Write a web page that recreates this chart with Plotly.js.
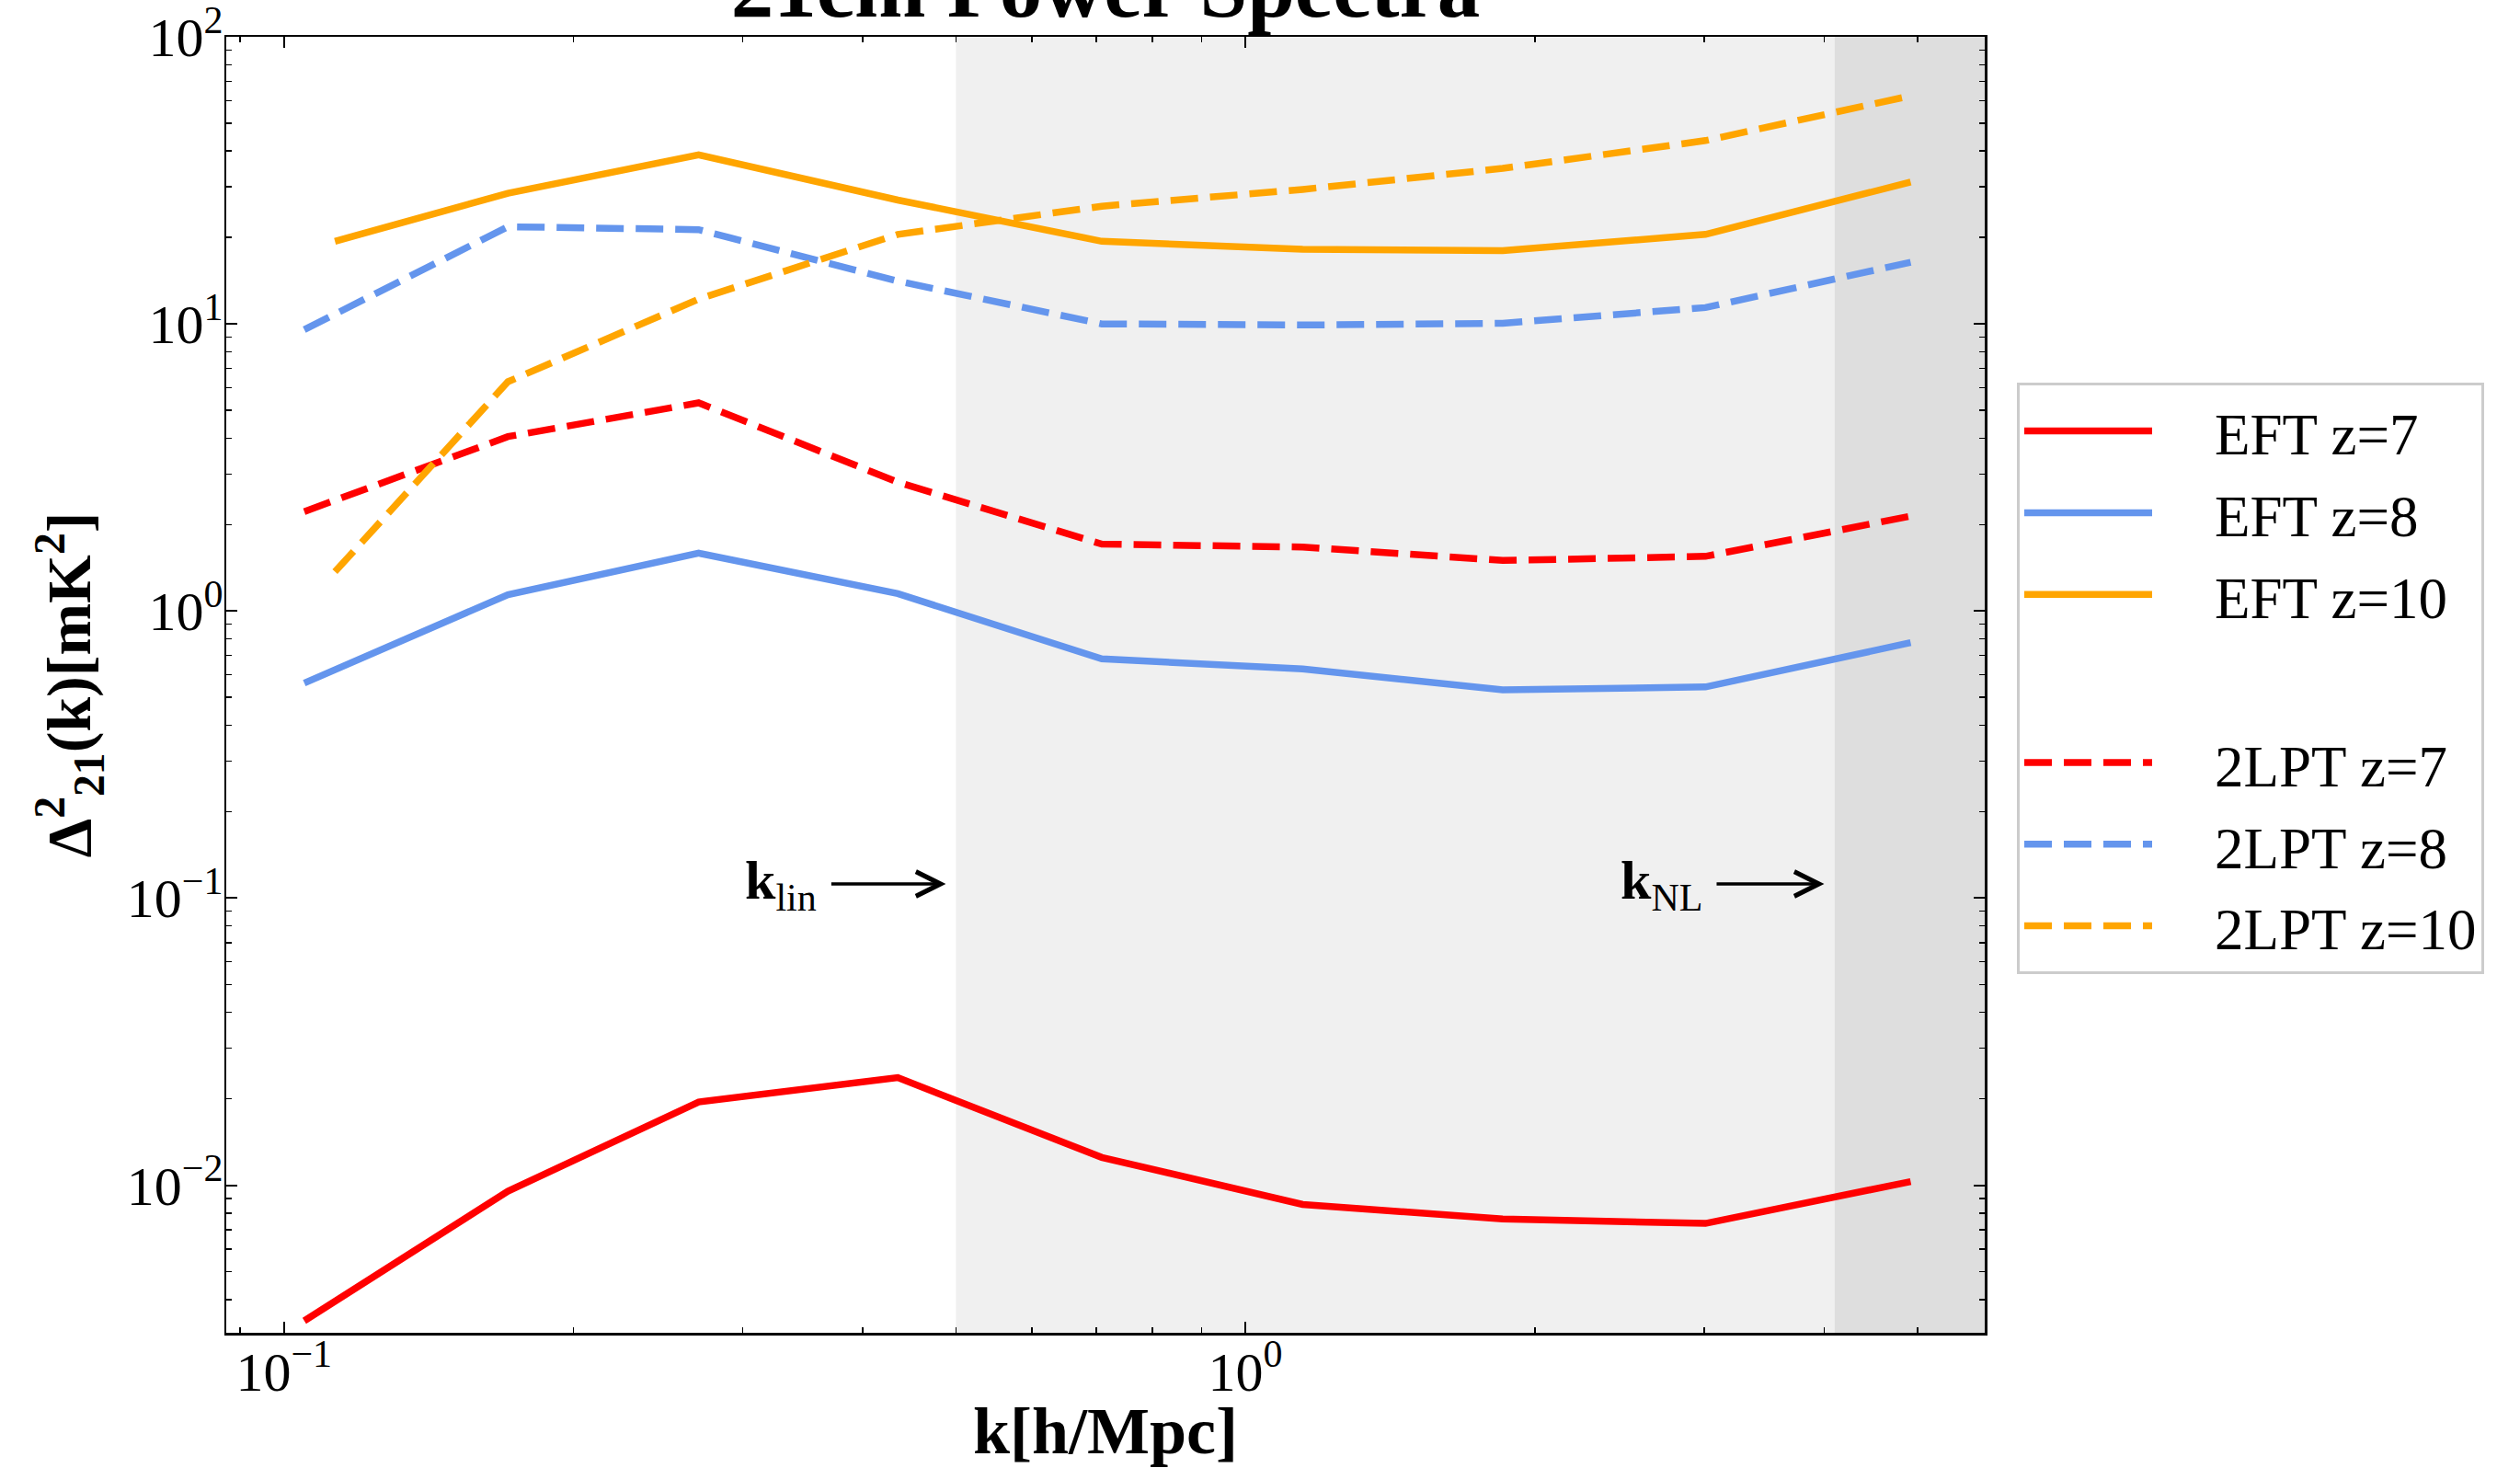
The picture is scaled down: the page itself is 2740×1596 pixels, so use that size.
<!DOCTYPE html>
<html>
<head>
<meta charset="utf-8">
<script src="https://cdn.plot.ly/plotly-3.0.1.min.js"></script>
<style>html,body{margin:0;padding:0;background:#fff;}#plot{width:2740px;height:1596px;}</style>
</head>
<body>
<div id="plot"></div>
<script>
// wavenumbers k [h/Mpc]
const k = [0.105, 0.171, 0.270, 0.435, 0.709, 1.147, 1.852, 3.01, 4.92];
const kZ10 = [0.113, 0.171, 0.270, 0.435, 0.709, 1.147, 1.852, 3.01, 4.92];

// Delta^2_21(k) [mK^2]
const eftZ7  = [0.00337, 0.00953, 0.0195, 0.0237, 0.0125, 0.00857, 0.00763, 0.00736, 0.0103];
const eftZ8  = [0.561, 1.14, 1.59, 1.15, 0.681, 0.628, 0.531, 0.544, 0.776];
const eftZ10 = [19.4, 28.5, 38.8, 27.0, 19.4, 18.2, 18.0, 20.5, 31.2];
const lptZ7  = [2.22, 4.05, 5.31, 2.81, 1.71, 1.67, 1.50, 1.55, 2.14];
const lptZ8  = [9.55, 21.8, 21.3, 14.1, 10.0, 9.91, 10.05, 11.4, 16.4];
const lptZ10 = [1.37, 6.29, 12.2, 20.5, 25.7, 29.4, 34.8, 43.5, 62.3];

const seriesNames = ['EFT z=7', 'EFT z=8', 'EFT z=10', '2LPT z=7', '2LPT z=8', '2LPT z=10'];

// scale markers
const kLin = 0.5;
const kNL = 4.1;
const arrowY = 0.112;

// ticks
const xTickVals = [0.1, 1];
const xTickText = ['10<sup>−1</sup>', '10<sup>0</sup>'];
const yTickVals = [0.01, 0.1, 1, 10, 100];
const yTickText = ['10<sup>−2</sup>', '10<sup>−1</sup>', '10<sup>0</sup>', '10<sup>1</sup>', '10<sup>2</sup>'];

const xRange = [-1.060, 0.769];
const yRange = [-2.514, 2.0];

const FONT = 'Liberation Serif, Times New Roman, serif';
const RED = '#ff0000', BLUE = '#6495ed', ORANGE = '#ffa500';
const LW = 7.5;
const DASH = '30px,13px';
const PAD = '\u2003';

function tr(x, y, name, color, dash, group) {
  return {
    x: x, y: y, name: '<span style="font-size:63px">' + PAD + name + '</span>',
    type: 'scatter', mode: 'lines',
    line: {color: color, width: LW, dash: dash},
    legendgroup: group, hoverinfo: 'skip'
  };
}

const data = [
  tr(k, eftZ7, seriesNames[0], RED, 'solid', 'EFT'),
  tr(k, eftZ8, seriesNames[1], BLUE, 'solid', 'EFT'),
  tr(kZ10, eftZ10, seriesNames[2], ORANGE, 'solid', 'EFT'),
  tr(k, lptZ7, seriesNames[3], RED, DASH, 'LPT'),
  tr(k, lptZ8, seriesNames[4], BLUE, DASH, 'LPT'),
  tr(kZ10, lptZ10, seriesNames[5], ORANGE, DASH, 'LPT')
];

const xMax = Math.pow(10, xRange[1]);

const axisCommon = {
  type: 'log',
  showgrid: false, zeroline: false,
  showline: true, linecolor: 'black', linewidth: 2.5, mirror: 'allticks',
  ticks: 'inside', ticklen: 12, tickwidth: 2, tickcolor: 'black',
  tickmode: 'array',
  minor: {ticks: 'inside', ticklen: 6, tickwidth: 1.5, tickcolor: 'black', dtick: 'D1', showgrid: false},
  tickfont: {family: FONT, size: 60, color: 'black'},
  ticklabeloverflow: 'allow',
  automargin: false
};

const layout = {
  width: 2740, height: 1596,
  paper_bgcolor: 'white', plot_bgcolor: 'white',
  margin: {l: 246, r: 582, t: 40, b: 147},
  font: {family: FONT, color: 'black'},
  title: {
    text: '<b>21cm Power Spectra</b>',
    font: {family: FONT, size: 93, color: 'black'},
    x: 1202 / 2740, xref: 'container', xanchor: 'center',
    y: 1 - 18 / 1596, yref: 'container', yanchor: 'bottom'
  },
  xaxis: Object.assign({}, axisCommon, {
    range: xRange, tickvals: xTickVals, ticktext: xTickText,
    ticklabelstandoff: -12,
    title: {text: '<b>k[h/Mpc]</b>', font: {family: FONT, size: 72, color: 'black'}, standoff: 39}
  }),
  yaxis: Object.assign({}, axisCommon, {
    range: yRange, tickvals: yTickVals, ticktext: yTickText,
    ticklabelstandoff: -11,
    title: {text: '<b>Δ<sup>2</sup><sub>21</sub>(k)[mK<sup>2</sup>]</b>', font: {family: FONT, size: 68, color: 'black'}, standoff: 17}
  }),
  shapes: [
    {type: 'rect', xref: 'x', yref: 'paper', x0: kLin, x1: kNL, y0: 0, y1: 1,
     fillcolor: '#f0f0f0', line: {width: 0}, layer: 'below'},
    {type: 'rect', xref: 'x', yref: 'paper', x0: kNL, x1: xMax, y0: 0, y1: 1,
     fillcolor: '#dedede', line: {width: 0}, layer: 'below'}
  ],
  annotations: [
    {x: Math.log10(0.488), y: Math.log10(arrowY), xref: 'x', yref: 'y',
     ax: -179, ay: 0, axref: 'pixel', ayref: 'pixel',
     text: '<b>k</b><sub>lin</sub>', font: {family: FONT, size: 60, color: 'black'},
     showarrow: true, arrowhead: 5, arrowsize: 1.5, arrowwidth: 3.5, arrowcolor: 'black', startstandoff: 14},
    {x: Math.log10(4.0), y: Math.log10(arrowY), xref: 'x', yref: 'y',
     ax: -177, ay: 0, axref: 'pixel', ayref: 'pixel',
     text: '<b>k</b><sub>NL</sub>', font: {family: FONT, size: 60, color: 'black'},
     showarrow: true, arrowhead: 5, arrowsize: 1.5, arrowwidth: 3.5, arrowcolor: 'black', startstandoff: 14}
  ],
  showlegend: true,
  legend: {
    x: 1.0183, y: 0.733, xanchor: 'left', yanchor: 'top',
    bgcolor: 'white', bordercolor: '#cccccc', borderwidth: 3,
    font: {family: FONT, size: 66, color: 'black'},
    traceorder: 'grouped', tracegroupgap: 94,
    itemwidth: 139
  }
};

Plotly.newPlot('plot', data, layout, {staticPlot: true, displayModeBar: false});
</script>
</body>
</html>
